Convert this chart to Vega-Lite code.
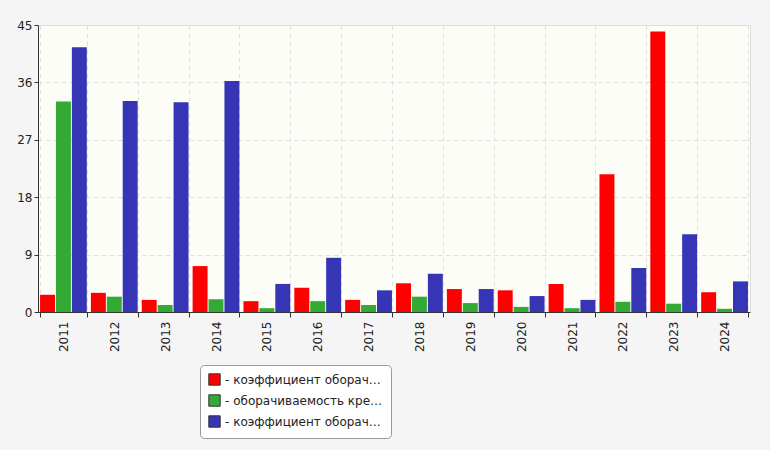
{
  "$schema": "https://vega.github.io/schema/vega-lite/v6.json",
  "width": 712,
  "height": 287,
  "autosize": {"type": "none"},
  "padding": {"left": 38, "top": 25, "right": 20, "bottom": 138},
  "background": "#f5f5f5",
  "config": {
    "font": "DejaVu Sans",
    "view": {"fill": "#fdfdf8", "stroke": "#dddddd"},
    "axis": {"labelFontSize": 12, "labelColor": "#222222", "gridColor": "#dddddd", "gridDash": [4, 4], "domainColor": "#333333", "tickColor": "#333333"}
  },
  "data": {
    "values": [
      {"year": "2011", "s": "a", "v": 2.7}, {"year": "2011", "s": "b", "v": 33.0}, {"year": "2011", "s": "c", "v": 41.5},
      {"year": "2012", "s": "a", "v": 3.0}, {"year": "2012", "s": "b", "v": 2.4}, {"year": "2012", "s": "c", "v": 33.1},
      {"year": "2013", "s": "a", "v": 1.9}, {"year": "2013", "s": "b", "v": 1.1}, {"year": "2013", "s": "c", "v": 32.9},
      {"year": "2014", "s": "a", "v": 7.2}, {"year": "2014", "s": "b", "v": 2.0}, {"year": "2014", "s": "c", "v": 36.2},
      {"year": "2015", "s": "a", "v": 1.7}, {"year": "2015", "s": "b", "v": 0.6}, {"year": "2015", "s": "c", "v": 4.4},
      {"year": "2016", "s": "a", "v": 3.8}, {"year": "2016", "s": "b", "v": 1.7}, {"year": "2016", "s": "c", "v": 8.5},
      {"year": "2017", "s": "a", "v": 1.9}, {"year": "2017", "s": "b", "v": 1.1}, {"year": "2017", "s": "c", "v": 3.4},
      {"year": "2018", "s": "a", "v": 4.5}, {"year": "2018", "s": "b", "v": 2.4}, {"year": "2018", "s": "c", "v": 6.0},
      {"year": "2019", "s": "a", "v": 3.6}, {"year": "2019", "s": "b", "v": 1.4}, {"year": "2019", "s": "c", "v": 3.6},
      {"year": "2020", "s": "a", "v": 3.4}, {"year": "2020", "s": "b", "v": 0.8}, {"year": "2020", "s": "c", "v": 2.5},
      {"year": "2021", "s": "a", "v": 4.4}, {"year": "2021", "s": "b", "v": 0.6}, {"year": "2021", "s": "c", "v": 1.9},
      {"year": "2022", "s": "a", "v": 21.6}, {"year": "2022", "s": "b", "v": 1.6}, {"year": "2022", "s": "c", "v": 6.9},
      {"year": "2023", "s": "a", "v": 44.0}, {"year": "2023", "s": "b", "v": 1.3}, {"year": "2023", "s": "c", "v": 12.2},
      {"year": "2024", "s": "a", "v": 3.1}, {"year": "2024", "s": "b", "v": 0.5}, {"year": "2024", "s": "c", "v": 4.8}
    ]
  },
  "mark": {"type": "bar"},
  "encoding": {
    "x": {
      "field": "year", "type": "nominal", "title": null,
      "scale": {"paddingInner": 0.08, "paddingOuter": 0.04},
      "axis": {"labelAngle": -90, "labelAlign": "right", "labelBaseline": "middle", "grid": true, "gridDash": [4, 4], "ticks": true, "tickBand": "extent", "labelPadding": 4}
    },
    "xOffset": {"field": "s", "type": "nominal", "scale": {"paddingInner": 0.06}},
    "y": {
      "field": "v", "type": "quantitative", "title": null,
      "scale": {"domain": [0, 45], "nice": false},
      "axis": {"values": [0, 9, 18, 27, 36, 45], "grid": true, "tickSize": 4}
    },
    "color": {
      "field": "s", "type": "nominal",
      "scale": {"domain": ["a", "b", "c"], "range": ["#ff0000", "#33aa33", "#3535b5"]},
      "legend": {
        "title": null,
        "orient": "none",
        "legendX": 162,
        "legendY": 340,
        "symbolType": "square",
        "symbolSize": 130,
        "symbolStrokeColor": "#333333",
        "symbolStrokeWidth": 1,
        "labelFontSize": 12,
        "labelColor": "#222222",
        "rowPadding": 4,
        "padding": 8,
        "fillColor": "#ffffff",
        "strokeColor": "#999999",
        "cornerRadius": 4,
        "labelExpr": "datum.value == 'a' ? '- коэффициент оборачиваемости средств в расчетах' : datum.value == 'b' ? '- оборачиваемость кредиторской задолженности' : '- коэффициент оборачиваемости денежных средств'"
      }
    }
  }
}
